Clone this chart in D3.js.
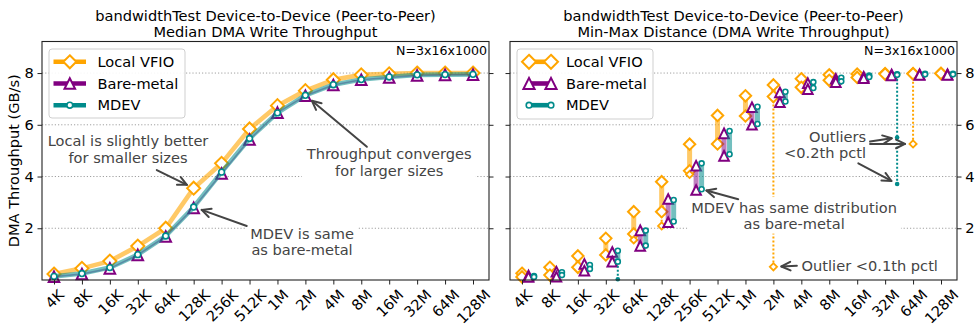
<!DOCTYPE html>
<html>
<head>
<meta charset="utf-8">
<script src="https://cdn.jsdelivr.net/npm/d3@7"></script>
<style>
  body { margin: 0; background: #fff; }
  svg { display: block; font-family: "DejaVu Sans", sans-serif; }
</style>
</head>
<body>
<svg id="chart" width="976" height="328"></svg>
<script>
// ---- data: transfer sizes and DMA write throughput (GB/s) ----
const categories = ["4K","8K","16K","32K","64K","128K","256K","512K","1M","2M","4M","8M","16M","32M","64M","128M"];
const yTicks = [2, 4, 6, 8];

// medians
const medianLocal = [0.23,0.45,0.73,1.31,2.00,3.55,4.51,5.84,6.74,7.32,7.74,7.93,7.97,8.00,8.00,8.00];
const medianBare  = [0.13,0.23,0.45,0.97,1.68,2.79,4.12,5.43,6.47,7.12,7.54,7.74,7.83,7.91,7.93,7.94];
const medianMdev  = [0.14,0.25,0.48,0.98,1.70,2.82,4.17,5.47,6.46,7.14,7.55,7.75,7.85,7.93,7.94,7.95];

// min-max distance (main range)
const localHigh = [0.26,0.49,0.93,1.61,2.64,3.80,5.25,6.36,7.12,7.54,7.78,7.93,7.96,7.98,7.98,7.99];
const localLow  = [0.12,0.19,0.49,0.97,1.78,2.64,4.22,5.26,6.34,7.09,7.45,7.72,7.83,7.96,7.97,7.98];
const bareHigh  = [0.17,0.32,0.62,1.08,1.92,3.13,4.42,5.67,6.68,7.25,7.61,7.78,7.86,7.94,7.95,7.95];
const bareLow   = [0.12,0.13,0.36,0.71,1.32,2.23,3.48,4.80,6.00,6.87,7.38,7.65,7.80,7.91,7.93,7.93];
const mdevHigh  = [0.15,0.30,0.58,1.13,1.91,3.09,4.51,5.76,6.70,7.28,7.65,7.82,7.90,7.95,7.97,7.97];
const mdevLow   = [0.12,0.19,0.43,0.71,1.33,2.26,3.51,4.86,6.03,6.90,7.42,7.68,7.85,7.93,7.95,7.95];

// outliers below the main range: [size, value]
const localOutliers = [["64K",1.55],["128K",2.09],["256K",4.08],["2M",0.51],["64M",5.26]];
const bareOutliers  = [];
const mdevOutliers  = [["32K",0.03],["32M",5.51],["32M",3.71]];

// ---- drawing ----
const svg = d3.select("#chart");
const FS = 14.6;
const INK = "#444";
const colors = { local: "#FFA500", bare: "#800080", mdev: "#008B8B" };
const plotTop = 41.5, plotBottom = 280;
const y = d3.scaleLinear().domain([0, 9.22]).range([plotBottom, plotTop]);

function makePanel(x0, x1) {
  const r = [x0 + 12, x1 - 16];
  return {
    x0, x1,
    xp: d3.scalePoint().domain(categories).range(r),
    xi: d3.scaleLinear().domain([0, categories.length - 1]).range(r),
    g: svg.append("g")
  };
}
const left = makePanel(42, 489);
const right = makePanel(510, 957);

function marker(g, type, cx, cy, r, color, opts = {}) {
  const sw = opts.sw ?? 2;
  const fill = opts.fill ?? "#fff";
  if (type === "diamond") {
    g.append("path").attr("d", `M${cx},${cy - r}L${cx + r},${cy}L${cx},${cy + r}L${cx - r},${cy}Z`)
      .attr("fill", fill).attr("stroke", color).attr("stroke-width", sw).attr("stroke-linejoin", "miter");
  } else if (type === "triangle") {
    g.append("path").attr("d", `M${cx},${cy - r}L${cx + r},${cy + r}L${cx - r},${cy + r}Z`)
      .attr("fill", fill).attr("stroke", color).attr("stroke-width", sw).attr("stroke-linejoin", "miter");
  } else {
    g.append("circle").attr("cx", cx).attr("cy", cy).attr("r", r)
      .attr("fill", fill).attr("stroke", color).attr("stroke-width", sw);
  }
}

function grid(p) {
  p.g.append("g").selectAll("line").data(yTicks).join("line")
    .attr("x1", p.x0).attr("x2", p.x1)
    .attr("y1", d => y(d)).attr("y2", d => y(d))
    .attr("stroke", "#a0a0a0").attr("stroke-width", 1).attr("stroke-dasharray", "1.2,2");
}

function axes(p, labelsRight) {
  const gx = p.g.append("g").attr("transform", `translate(0,${plotBottom})`)
    .call(d3.axisBottom(p.xp).tickSize(4.5).tickSizeOuter(0));
  gx.select(".domain").remove();
  gx.attr("font-size", FS).attr("font-family", null).attr("color", "#222");
  gx.selectAll("text").attr("fill", "#000").attr("x", 0).attr("dy", null)
    .attr("y", 0.36 * FS).attr("text-anchor", "middle")
    .attr("transform", function () {
      const w = this.getComputedTextLength();
      const c = (w + 0.72 * FS) * Math.SQRT1_2 / 2;
      return `translate(0,${8.5 + c}) rotate(-45)`;
    });

  const gl = p.g.append("g").attr("transform", `translate(${p.x0},0)`)
    .call(d3.axisLeft(y).tickValues(yTicks).tickSize(4.5).tickSizeOuter(0).tickPadding(3.8)
      .tickFormat(labelsRight ? () => "" : d3.format("d")));
  const gr = p.g.append("g").attr("transform", `translate(${p.x1},0)`)
    .call(d3.axisRight(y).tickValues(yTicks).tickSize(4.5).tickSizeOuter(0).tickPadding(3.8)
      .tickFormat(labelsRight ? d3.format("d") : () => ""));
  [gl, gr].forEach(a => {
    a.select(".domain").remove();
    a.attr("font-size", FS).attr("font-family", null).attr("color", "#222");
    a.selectAll("text").attr("fill", "#000");
  });
}

function spines(p) {
  p.g.append("rect").attr("x", p.x0).attr("y", plotTop)
    .attr("width", p.x1 - p.x0).attr("height", plotBottom - plotTop)
    .attr("fill", "none").attr("stroke", "#222").attr("stroke-width", 1.1);
}

function title(p, l1, l2) {
  const cx = (p.x0 + p.x1) / 2;
  const t = svg.append("text").attr("text-anchor", "middle").attr("font-size", FS).attr("fill", "#000");
  t.append("tspan").attr("x", cx).attr("y", 20.5).text(l1);
  t.append("tspan").attr("x", cx).attr("y", 36.8).text(l2);
}

function countLabel(p) {
  p.g.append("text").attr("x", p.x1 - 2).attr("y", 54.5).attr("text-anchor", "end")
    .attr("font-size", 12.6).attr("fill", "#000").text("N=3x16x1000");
}

// text block with a white box behind it
function note(p, lines, xi, v, anchor) {
  const g = p.g.append("g");
  const rect = g.append("rect").attr("fill", "#fff");
  const cx = p.xi(xi), cy = y(v), lh = 16.6;
  const t = g.append("text").attr("text-anchor", anchor).attr("font-size", FS).attr("fill", INK);
  lines.forEach((s, i) => t.append("tspan").attr("x", cx)
    .attr("y", cy + (i - (lines.length - 1) / 2) * lh + 0.36 * FS).text(s));
  const b = t.node().getBBox();
  rect.attr("x", b.x - 4).attr("y", b.y - 1.5).attr("width", b.width + 8).attr("height", b.height + 3);
}

// "->" style arrow from a text position to a data point
function arrow(p, tail, targetIdx, targetVal, dxTarget, shrink) {
  const tx = p.xi(tail[0]), ty = y(tail[1]);
  const px = p.xi(targetIdx) + dxTarget, py = y(targetVal);
  const dx = px - tx, dy = py - ty, L = Math.hypot(dx, dy);
  const ux = dx / L, uy = dy / L;
  const hx = px - ux * shrink, hy = py - uy * shrink;
  const hl = 9, hw = 4.3;
  const bx = hx - ux * hl, by = hy - uy * hl;
  const g = p.g.append("g").attr("stroke", INK).attr("stroke-width", 2).attr("fill", "none")
    .attr("stroke-linecap", "round").attr("stroke-linejoin", "round");
  g.append("line").attr("x1", tx).attr("y1", ty).attr("x2", hx).attr("y2", hy);
  g.append("path").attr("d", `M${bx - uy * hw},${by + ux * hw}L${hx},${hy}L${bx + uy * hw},${by - ux * hw}`);
}

// ================= left panel: medians =================
grid(left);
const medSeries = [
  { vals: medianLocal, color: colors.local, type: "diamond", r: 6.5, lw: 4.6, lo: 0.6 },
  { vals: medianBare,  color: colors.bare,  type: "triangle", r: 5.3, lw: 1.6, lo: 0.45 },
  { vals: medianMdev,  color: colors.mdev,  type: "circle", r: 2.9, lw: 4.6, lo: 0.55 }
];
medSeries.forEach(s => {
  const g = left.g.append("g");
  const line = d3.line().x((d, i) => left.xp(categories[i])).y(d => y(d));
  g.append("path").attr("d", line(s.vals)).attr("fill", "none")
    .attr("stroke", s.color).attr("stroke-opacity", s.lo).attr("stroke-width", s.lw)
    .attr("stroke-linejoin", "round");
  s.vals.forEach((v, i) => marker(g, s.type, left.xp(categories[i]), y(v), s.r, s.color,
    { sw: s.type === "circle" ? 1.6 : 2 }));
});

note(left, ["Local is slightly better", "for smaller sizes"], 2.65, 5.06, "middle");
note(left, ["MDEV is same", "as bare-metal"], 8.88, 1.48, "middle");
note(left, ["Throughput converges", "for larger sizes"], 12.0, 4.55, "middle");
arrow(left, [3.68, 4.25], 5, medianLocal[5], 0, 7.5);
arrow(left, [6.90, 2.09], 5, medianMdev[5], 0, 8.5);
arrow(left, [11.2, 5.15], 9, medianMdev[9], 0, 8.5);

axes(left, false);
spines(left);
countLabel(left);

// left legend
{
  const g = left.g.append("g");
  g.append("rect").attr("x", 49).attr("y", 49).attr("width", 136).attr("height", 69).attr("rx", 3)
    .attr("fill", "#fff").attr("fill-opacity", 0.9).attr("stroke", "#cfcfcf").attr("stroke-width", 1);
  const names = ["Local VFIO", "Bare-metal", "MDEV"];
  medSeries.forEach((s, i) => {
    const ly = 61.8 + i * 21.7;
    g.append("line").attr("x1", 53.5).attr("x2", 86).attr("y1", ly).attr("y2", ly)
      .attr("stroke", s.color).attr("stroke-width", 4.6);
    marker(g, s.type, 69.8, ly, s.r, s.color, { sw: s.type === "circle" ? 1.6 : 2 });
    g.append("text").attr("x", 97.5).attr("y", ly + 0.36 * FS).attr("font-size", FS)
      .attr("fill", "#000").text(names[i]);
  });
}
left.g.append("text").attr("transform", `translate(${13.5},${(plotTop + plotBottom) / 2}) rotate(-90)`)
  .attr("text-anchor", "middle").attr("dy", "0.36em").attr("font-size", FS).attr("fill", "#000")
  .text("DMA Throughput (GB/s)");
title(left, "bandwidthTest Device-to-Device (Peer-to-Peer)", "Median DMA Write Throughput");

// ================= right panel: min-max distance =================
grid(right);
const rangeSeries = [
  { hi: localHigh, lo: localLow, out: localOutliers, color: colors.local, type: "diamond", r: 5.7, dx: 0, barOpacity: 0.6, outR: 3.6 },
  { hi: bareHigh,  lo: bareLow,  out: bareOutliers,  color: colors.bare,  type: "triangle", r: 4.8, dx: 6.5, barOpacity: 0.5, outR: 3 },
  { hi: mdevHigh,  lo: mdevLow,  out: mdevOutliers,  color: colors.mdev,  type: "circle", r: 2.5, dx: 12, barOpacity: 0.55, outR: 2.3 }
];
rangeSeries.forEach(s => {
  const g = right.g.append("g");
  categories.forEach((c, i) => {
    const x = right.xp(c) + s.dx;
    g.append("line").attr("x1", x).attr("x2", x).attr("y1", y(s.hi[i])).attr("y2", y(s.lo[i]))
      .attr("stroke", s.color).attr("stroke-opacity", s.barOpacity).attr("stroke-width", 5);
  });
  // dotted tail down to the lowest outlier of each size
  const lowest = d3.rollup(s.out, v => d3.min(v, d => d[1]), d => d[0]);
  lowest.forEach((v, c) => {
    const i = categories.indexOf(c), x = right.xp(c) + s.dx;
    g.append("line").attr("x1", x).attr("x2", x).attr("y1", y(s.lo[i])).attr("y2", y(v))
      .attr("stroke", s.color).attr("stroke-width", 2).attr("stroke-dasharray", "2,2");
  });
  categories.forEach((c, i) => {
    const x = right.xp(c) + s.dx;
    marker(g, s.type, x, y(s.hi[i]), s.r, s.color, { sw: s.type === "circle" ? 1.6 : 2 });
    marker(g, s.type, x, y(s.lo[i]), s.r, s.color, { sw: s.type === "circle" ? 1.6 : 2 });
  });
  s.out.forEach(([c, v]) => {
    const x = right.xp(c) + s.dx;
    if (s.type === "circle") marker(g, "circle", x, y(v), s.outR, s.color, { sw: 0, fill: s.color });
    else marker(g, s.type, x, y(v), s.outR, s.color, { sw: 1.8 });
  });
});

note(right, ["MDEV has same distribution", "as bare-metal"], 9.74, 2.49, "middle");
note(right, ["Outlier <0.1th pctl"], 10.01, 0.55, "start");
note(right, ["Outliers", "<0.2th pctl"], 12.32, 5.23, "end");
arrow(right, [7.74, 3.12], 6, mdevLow[6], 12, 5);
arrow(right, [9.84, 0.55], 9, localOutliers[3][1], 0, 8);
arrow(right, [12.46, 5.35], 13, mdevOutliers[1][1], 12, 5.5);
arrow(right, [12.46, 5.26], 14, localOutliers[4][1], 0, 8);
arrow(right, [12.04, 4.51], 13, mdevOutliers[2][1], 12, 6.5);

axes(right, true);
spines(right);
countLabel(right);

// right legend: marker - bar - marker
{
  const g = right.g.append("g");
  g.append("rect").attr("x", 517).attr("y", 49).attr("width", 136).attr("height", 70).attr("rx", 3)
    .attr("fill", "#fff").attr("fill-opacity", 0.9).attr("stroke", "#cfcfcf").attr("stroke-width", 1);
  const names = ["Local VFIO", "Bare-metal", "MDEV"];
  rangeSeries.forEach((s, i) => {
    const ly = 61.8 + i * 21.7;
    g.append("line").attr("x1", 529).attr("x2", 551).attr("y1", ly).attr("y2", ly)
      .attr("stroke", s.color).attr("stroke-width", 4.6);
    const rr = s.type === "diamond" ? 7 : s.type === "triangle" ? 5.6 : 2.8;
    marker(g, s.type, 529, ly, rr, s.color, { sw: s.type === "circle" ? 1.6 : 2 });
    marker(g, s.type, 551, ly, rr, s.color, { sw: s.type === "circle" ? 1.6 : 2 });
    g.append("text").attr("x", 566).attr("y", ly + 0.36 * FS).attr("font-size", FS)
      .attr("fill", "#000").text(names[i]);
  });
}
title(right, "bandwidthTest Device-to-Device (Peer-to-Peer)", "Min-Max Distance (DMA Write Throughput)");
</script>
</body>
</html>
